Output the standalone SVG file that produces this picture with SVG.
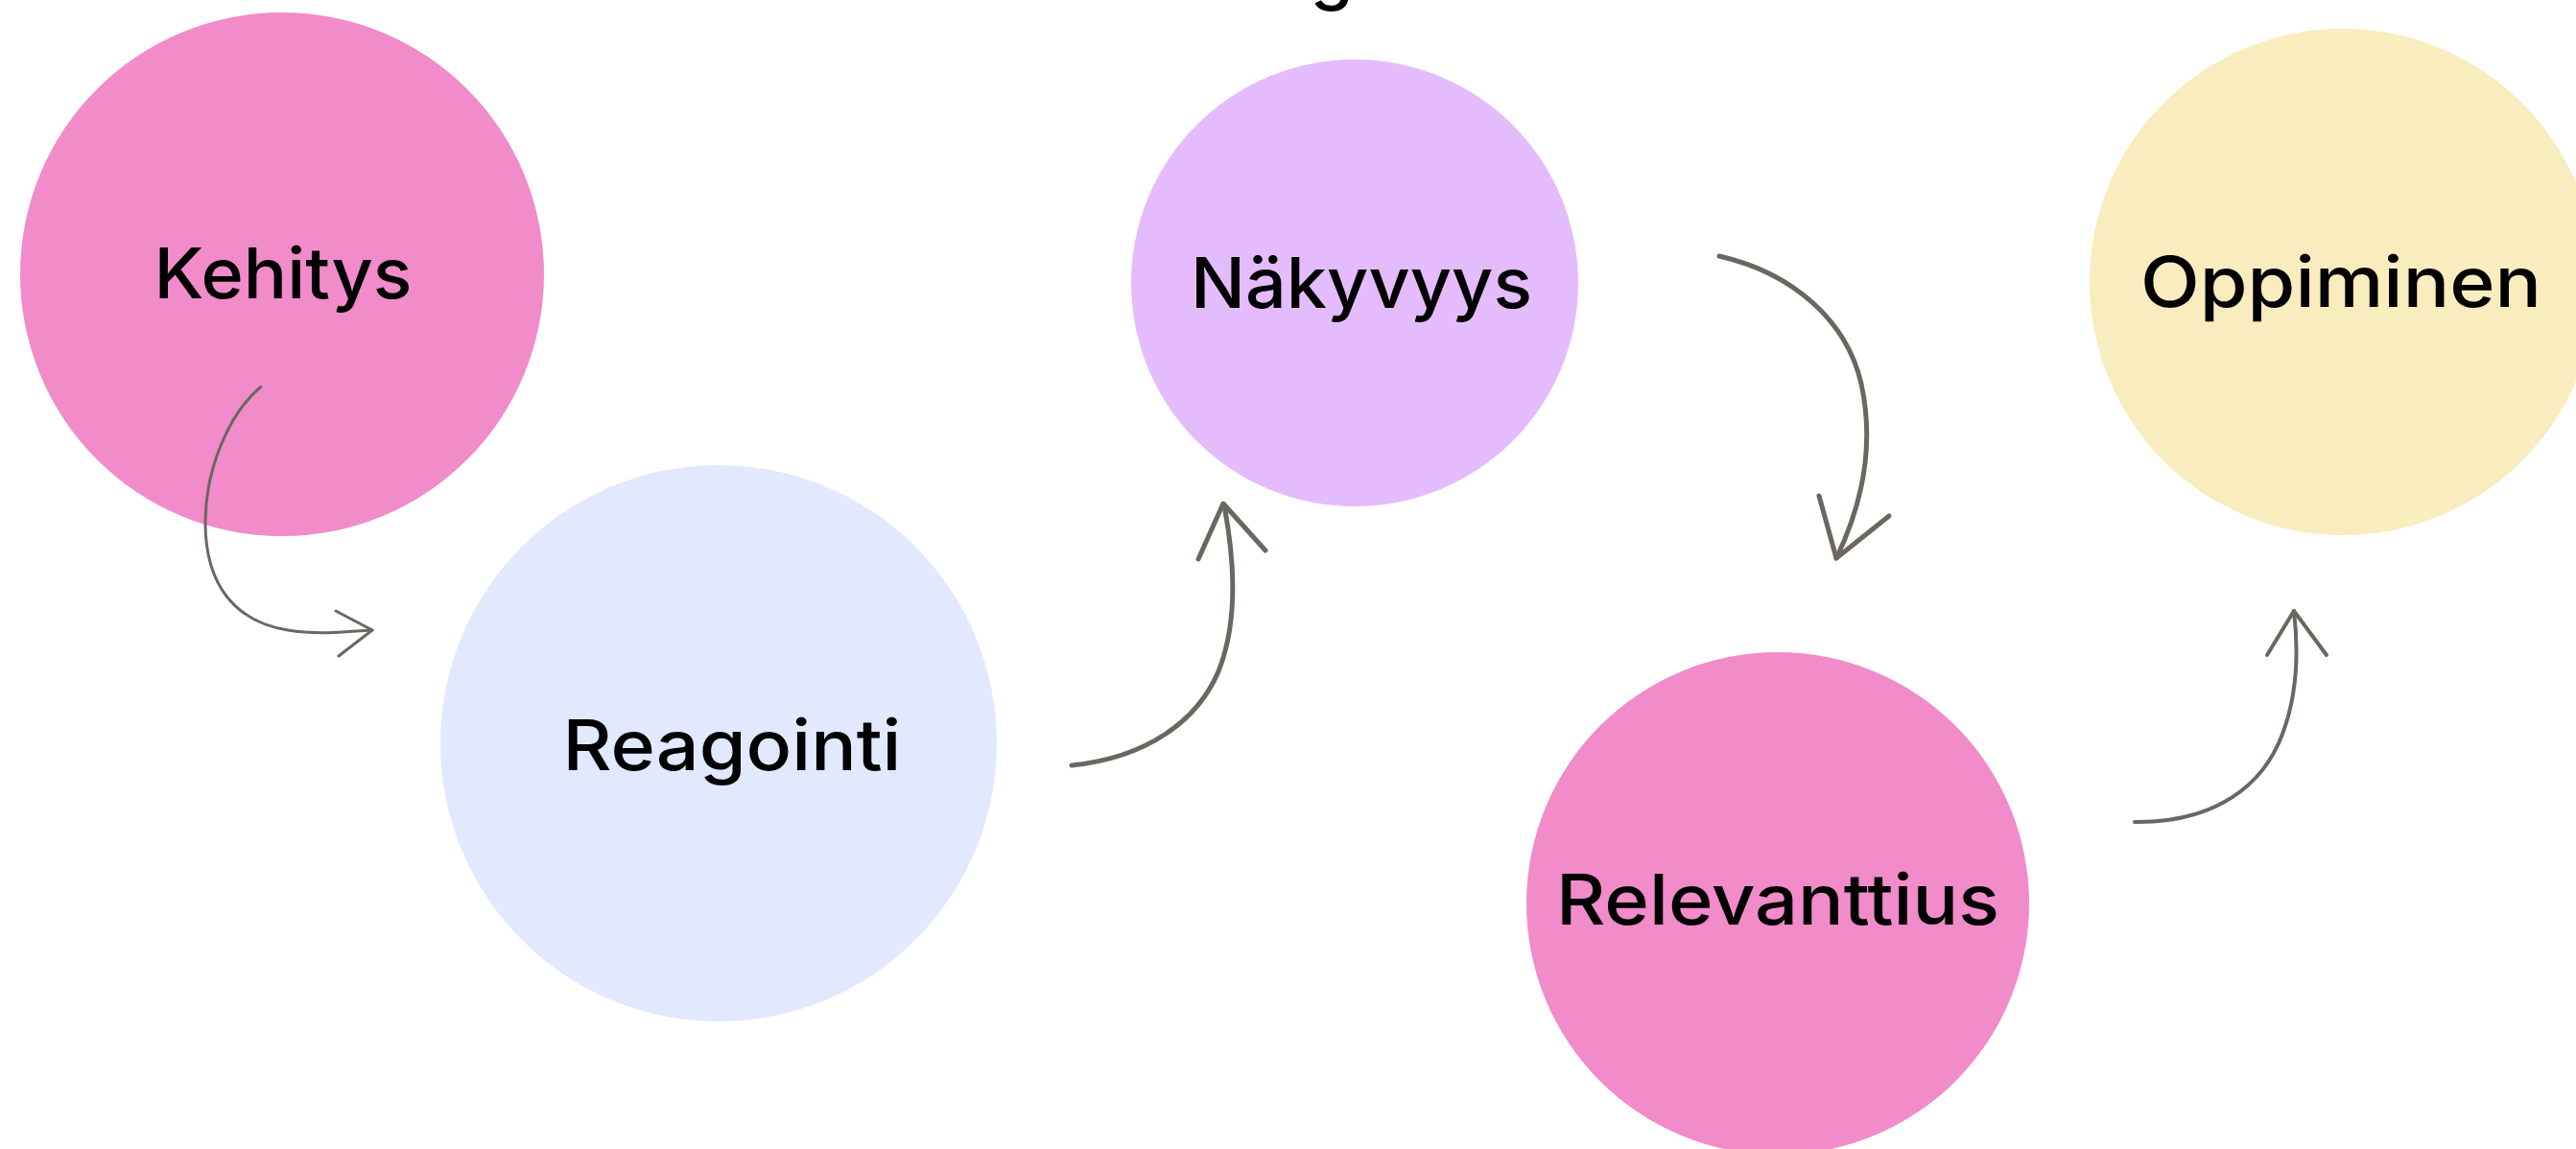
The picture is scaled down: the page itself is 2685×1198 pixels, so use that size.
<svg xmlns="http://www.w3.org/2000/svg" width="2685" height="1198" viewBox="0 0 2685 1198">
  <style>
    .lbl { font-family: Inter, "Noto Sans", sans-serif; font-size: 73px; font-weight: 500; fill: #000; text-anchor: middle; }
    .pink { fill: #F18BC9; }
    .blue { fill: #E2E8FE; }
    .purple { fill: #E4BCFE; }
    .yellow { fill: #F9ECBE; }
    .arr { fill: none; stroke: #6B6760; stroke-linecap: round; stroke-linejoin: round; }
  </style>
  <rect width="2685" height="1198" fill="#FFFFFF"/>
  <text class="lbl" x="1388" y="-4" font-size="76">g</text>

  <g id="node-kehitys">
    <circle class="pink" cx="294" cy="286" r="273"/>
    <text class="lbl" x="295" y="311" textLength="269" lengthAdjust="spacingAndGlyphs">Kehitys</text>
  </g>
  <g id="node-reagointi">
    <circle class="blue" cx="749" cy="775" r="290"/>
    <text class="lbl" x="763" y="803" textLength="353" lengthAdjust="spacingAndGlyphs">Reagointi</text>
  </g>
  <g id="node-nakyvyys">
    <circle class="purple" cx="1412" cy="295" r="233"/>
    <text class="lbl" x="1419" y="321" textLength="356" lengthAdjust="spacingAndGlyphs">Näkyvyys</text>
  </g>
  <g id="node-relevanttius">
    <circle class="pink" cx="1853" cy="942" r="262"/>
    <text class="lbl" x="1853" y="964" textLength="462" lengthAdjust="spacingAndGlyphs">Relevanttius</text>
  </g>
  <g id="node-oppiminen">
    <circle class="yellow" cx="2442" cy="294" r="264"/>
    <text class="lbl" x="2440" y="320" textLength="418" lengthAdjust="spacingAndGlyphs">Oppiminen</text>
  </g>

  <g id="connectors">
    <path class="arr" stroke-width="3" d="M271.7,403.3 C238,432 214,490 214,545 C214,610 245,648 300,657 C330,662 360,659 388,657"/>
    <polyline class="arr" stroke-width="3" points="350,637 388,657 353,684"/>

    <path class="arr" stroke-width="5" d="M1117,798 C1195,790 1248,752 1270,700 C1290,650 1287,585 1276,527"/>
    <polyline class="arr" stroke-width="5" points="1249,583 1275,525 1319,574"/>

    <path class="arr" stroke-width="5" d="M1792,267 C1870,285 1925,335 1940,400 C1953,460 1944,520 1914,582"/>
    <polyline class="arr" stroke-width="5" points="1896,517 1914,582 1969,538"/>

    <path class="arr" stroke-width="4" d="M2225,857 C2295,858 2350,830 2375,775 C2395,730 2396,680 2391,637"/>
    <polyline class="arr" stroke-width="4" points="2363,683 2391,637 2425,683"/>
  </g>
</svg>
